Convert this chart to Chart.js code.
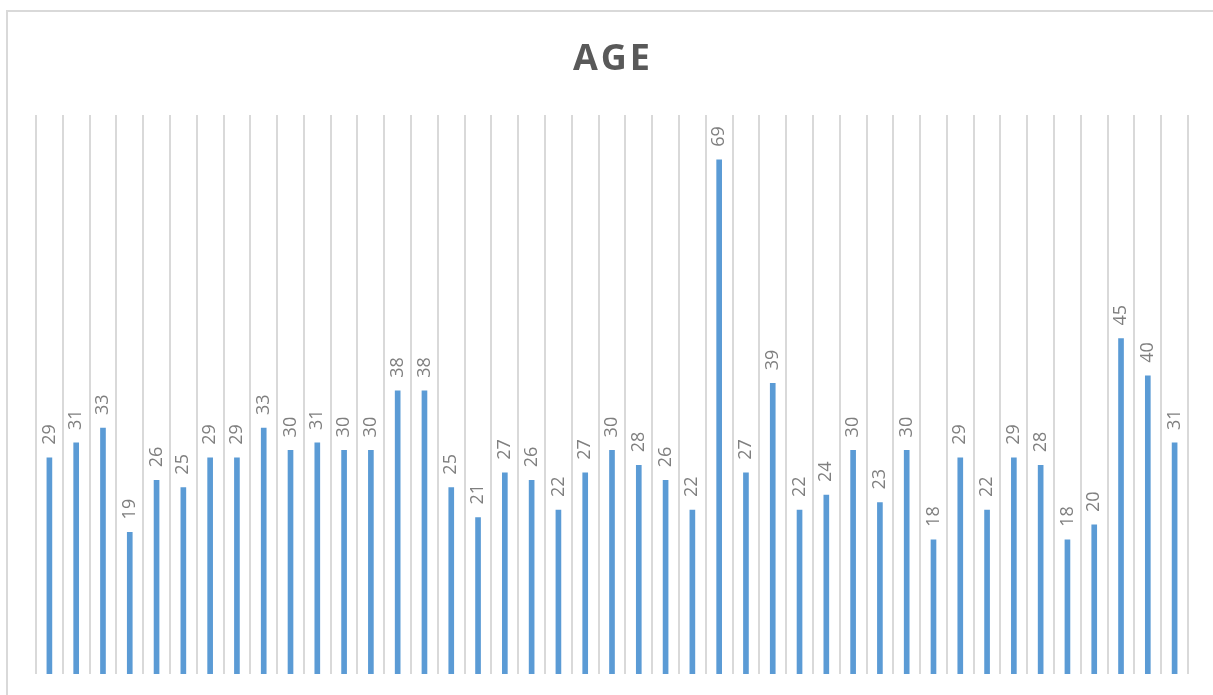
<!DOCTYPE html>
<html lang="en">
<head>
<meta charset="UTF-8">
<title>AGE</title>
<script src="https://cdn.jsdelivr.net/npm/chart.js"></script>
<style>
    body {
        margin: 0;
        background: #ffffff;
        overflow: hidden;
    }
    /* light frame like the Excel chart area, cut off on the right and bottom */
    .frame {
        position: absolute;
        left: 6px;
        top: 10px;
        width: 1400px;
        height: 900px;
        border: 2px solid #d9d9d9;
    }
    canvas {
        position: absolute;
        left: 0;
        top: 0;
    }
</style>
</head>
<body>
<div class="frame"></div>
<canvas id="ageChart" width="1213" height="695"></canvas>
<script>
    // One bar per respondent
    const ages = [29, 31, 33, 19, 26, 25, 29, 29, 33, 30, 31, 30, 30, 38, 38, 25, 21, 27, 26, 22,
                  27, 30, 28, 26, 22, 69, 27, 39, 22, 24, 30, 23, 30, 18, 29, 22, 29, 28, 18, 20,
                  45, 40, 31];
    const labels = ages.map((a, i) => String(i + 1));
    const chartTitle = 'AGE';

    // Title drawn by hand so it can get the letter spacing
    const titlePlugin = {
        id: 'spacedTitle',
        afterDraw(chart) {
            const ctx = chart.ctx;
            const area = chart.chartArea;
            ctx.save();
            ctx.font = 'bold 36px "Open Sans"';
            ctx.fillStyle = '#595959';
            ctx.textAlign = 'center';
            ctx.textBaseline = 'middle';
            ctx.letterSpacing = '3px';
            ctx.fillText(chartTitle, (area.left + area.right) / 2 + 1, 60);
            ctx.restore();
        }
    };

    // Rotated value labels above each bar
    const valueLabels = {
        id: 'valueLabels',
        afterDatasetsDraw(chart) {
            const ctx = chart.ctx;
            const meta = chart.getDatasetMeta(0);
            ctx.save();
            ctx.font = '18px "Open Sans"';
            ctx.fillStyle = '#7f7f7f';
            ctx.textAlign = 'left';
            ctx.textBaseline = 'middle';
            meta.data.forEach((bar, i) => {
                ctx.save();
                ctx.translate(bar.x, bar.y - 13);
                ctx.rotate(-Math.PI / 2);
                ctx.fillText(String(ages[i]), 0, 0);
                ctx.restore();
            });
            ctx.restore();
        }
    };

    new Chart(document.getElementById('ageChart'), {
        type: 'bar',
        data: {
            labels: labels,
            datasets: [{
                data: ages,
                backgroundColor: '#5b9bd5',
                barThickness: 5
            }]
        },
        options: {
            responsive: false,
            animation: false,
            layout: {
                padding: { left: 36, right: 25, top: 115, bottom: 21 }
            },
            plugins: {
                legend: { display: false },
                title: { display: false },
                tooltip: { enabled: false }
            },
            scales: {
                x: {
                    ticks: { display: false },
                    border: { display: false },
                    grid: {
                        color: '#d9d9d9',
                        lineWidth: 2,
                        drawTicks: false
                    }
                },
                y: {
                    display: false,
                    min: 0,
                    max: 75
                }
            }
        },
        plugins: [titlePlugin, valueLabels]
    });
</script>
</body>
</html>
